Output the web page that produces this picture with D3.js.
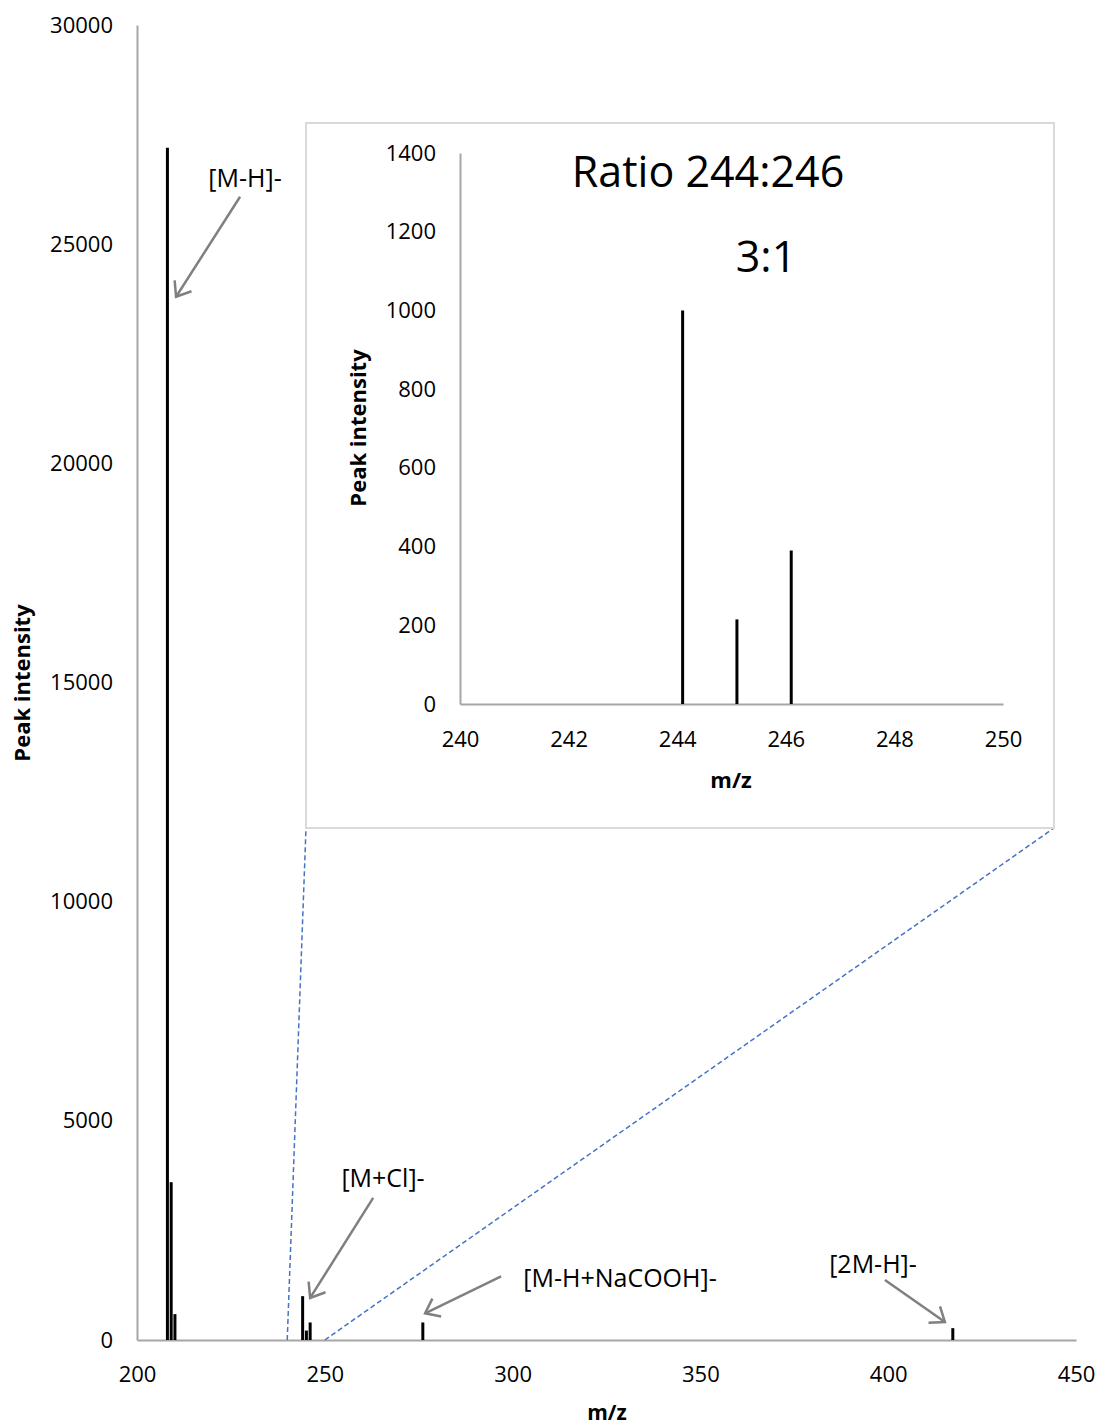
<!DOCTYPE html>
<html>
<head>
<meta charset="utf-8">
<script src="https://cdn.jsdelivr.net/npm/d3@7"></script>
<style>
  body { margin: 0; background: #fff; }
  text { font-family: "Open Sans", "Noto Sans", sans-serif; fill: #000; }
</style>
</head>
<body>
<div id="chart"></div>
<script>
// main spectrum
var mainMz = [208.1, 209.1, 210.1, 244.1, 245.1, 246.1, 276.1, 417.2];
var mainIntensity = [27200, 3600, 590, 1000, 215, 400, 400, 270];
var mainXTicks = [200, 250, 300, 350, 400, 450];
var mainYTicks = [0, 5000, 10000, 15000, 20000, 25000, 30000];

// inset (zoom on 240-250)
var insetMz = [244.1, 245.1, 246.1];
var insetIntensity = [1000, 215, 390];
var insetXTicks = [240, 242, 244, 246, 248, 250];
var insetYTicks = [0, 200, 400, 600, 800, 1000, 1200, 1400];

// annotations: label, arrow tip (mz, intensity)
var annoLabels = ['[M-H]-', '[M+Cl]-', '[M-H+NaCOOH]-', '[2M-H]-'];
var annoTipMz = [210.4, 246.1, 276.7, 415.1];
var annoTipInt = [23800, 960, 610, 410];

var width = 1100, height = 1427;
var colours = {
    peak: '#000000',
    axis: '#a6a6a6',
    arrow: '#808080',
    zoom: '#4472c4',
    frame: '#d9d9d9'
};
var fmt = d3.format('d');

var svg = d3.select('#chart')
    .append('svg')
    .attr('width', width)
    .attr('height', height);

// arrow marker
svg.append('defs').append('marker')
    .attr('id', 'arrow')
    .attr('markerUnits', 'userSpaceOnUse')
    .attr('markerWidth', 30)
    .attr('markerHeight', 30)
    .attr('refX', 15)
    .attr('refY', 15)
    .attr('orient', 'auto')
    .append('path')
    .attr('d', 'M2,5 L15,15 L2,25')
    .attr('fill', 'none')
    .attr('stroke', colours.arrow)
    .attr('stroke-width', 2.5);

//main scales
var x = d3.scaleLinear().domain([200, 450]).range([137, 1076]);
var y = d3.scaleLinear().domain([0, 30000]).range([1340, 25]);

// main axes (lines only, no tick marks)
var xAxis = svg.append('g')
    .attr('transform', 'translate(0,' + y(0) + ')')
    .call(d3.axisBottom(x).tickValues(mainXTicks).tickFormat(fmt).tickSize(0).tickPadding(26));
var yAxis = svg.append('g')
    .attr('transform', 'translate(' + x(200) + ',0)')
    .call(d3.axisLeft(y).tickValues(mainYTicks).tickFormat(fmt).tickSize(0).tickPadding(24));
[xAxis, yAxis].forEach(function (a) {
    a.select('.domain').attr('stroke', colours.axis).attr('stroke-width', 2);
    a.selectAll('text').style('font-size', '22px').attr('fill', '#000');
});

svg.append('text')
    .attr('x', 607).attr('y', 1420)
    .attr('text-anchor', 'middle')
    .style('font-size', '21px').style('font-weight', 'bold')
    .text('m/z');
svg.append('text')
    .attr('transform', 'translate(30,683) rotate(-90)')
    .attr('text-anchor', 'middle')
    .style('font-size', '22px').style('font-weight', 'bold')
    .text('Peak intensity');

// main peaks
svg.append('g').selectAll('line')
    .data(mainMz)
    .join('line')
    .attr('x1', function (d) { return x(d); })
    .attr('x2', function (d) { return x(d); })
    .attr('y1', y(0))
    .attr('y2', function (d, i) { return y(mainIntensity[i]); })
    .attr('stroke', colours.peak)
    .attr('stroke-width', 3);

// inset frame
var box = { x0: 306, y0: 123, x1: 1054, y1: 828 };

// zoom lines from main axis to inset corners
svg.append('line')
    .attr('x1', x(240)).attr('y1', y(0))
    .attr('x2', box.x0).attr('y2', box.y1)
    .attr('stroke', colours.zoom).attr('stroke-width', 1.5)
    .attr('stroke-dasharray', '5,3');
svg.append('line')
    .attr('x1', x(250)).attr('y1', y(0))
    .attr('x2', box.x1).attr('y2', box.y1)
    .attr('stroke', colours.zoom).attr('stroke-width', 1.5)
    .attr('stroke-dasharray', '5,3');

svg.append('rect')
    .attr('x', box.x0).attr('y', box.y0)
    .attr('width', box.x1 - box.x0).attr('height', box.y1 - box.y0)
    .attr('fill', '#fff')
    .attr('stroke', colours.frame).attr('stroke-width', 2);

// inset scales
var ix = d3.scaleLinear().domain([240, 250]).range([460, 1003]);
var iy = d3.scaleLinear().domain([0, 1400]).range([704, 153]);

var ixAxis = svg.append('g')
    .attr('transform', 'translate(0,' + iy(0) + ')')
    .call(d3.axisBottom(ix).tickValues(insetXTicks).tickFormat(fmt).tickSize(0).tickPadding(27));
var iyAxis = svg.append('g')
    .attr('transform', 'translate(' + ix(240) + ',0)')
    .call(d3.axisLeft(iy).tickValues(insetYTicks).tickFormat(fmt).tickSize(0).tickPadding(24));
[ixAxis, iyAxis].forEach(function (a) {
    a.select('.domain').attr('stroke', colours.axis).attr('stroke-width', 2);
    a.selectAll('text').style('font-size', '22px').attr('fill', '#000');
});

svg.append('text')
    .attr('x', 731).attr('y', 788)
    .attr('text-anchor', 'middle')
    .style('font-size', '22px').style('font-weight', 'bold')
    .text('m/z');
svg.append('text')
    .attr('transform', 'translate(366,428) rotate(-90)')
    .attr('text-anchor', 'middle')
    .style('font-size', '22px').style('font-weight', 'bold')
    .text('Peak intensity');

svg.append('text')
    .attr('x', 708).attr('y', 187)
    .attr('text-anchor', 'middle')
    .style('font-size', '43px')
    .text('Ratio 244:246');
svg.append('text')
    .attr('x', 766).attr('y', 272)
    .attr('text-anchor', 'middle')
    .style('font-size', '43px')
    .text('3:1');

// inset peaks
svg.append('g').selectAll('line')
    .data(insetMz)
    .join('line')
    .attr('x1', function (d) { return ix(d); })
    .attr('x2', function (d) { return ix(d); })
    .attr('y1', iy(0))
    .attr('y2', function (d, i) { return iy(insetIntensity[i]); })
    .attr('stroke', colours.peak)
    .attr('stroke-width', 3);

// annotations
var tailOffset = [[64, -100], [63, -100], [76, -37], [-60, -42]];
var textPos = [[245, 178], [383, 1178], [620, 1278], [873, 1264]];

var anno = svg.append('g');
annoLabels.forEach(function (label, i) {
    var tx = x(annoTipMz[i]), ty = y(annoTipInt[i]);
    anno.append('line')
        .attr('x1', tx + tailOffset[i][0]).attr('y1', ty + tailOffset[i][1])
        .attr('x2', tx).attr('y2', ty)
        .attr('stroke', colours.arrow)
        .attr('stroke-width', 2.5)
        .attr('marker-end', 'url(#arrow)');
    anno.append('text')
        .attr('x', textPos[i][0]).attr('y', textPos[i][1])
        .attr('text-anchor', 'middle')
        .attr('dy', '0.35em')
        .style('font-size', '25px')
        .text(label);
});
</script>
</body>
</html>
